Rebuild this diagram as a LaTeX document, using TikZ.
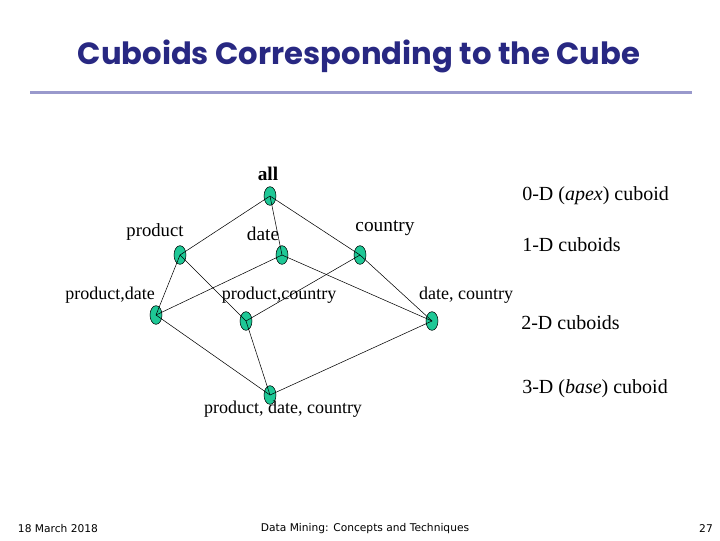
\documentclass[tikz,border=0pt]{standalone}
\usepackage{fontspec}
\setmainfont{Liberation Serif}
\newfontfamily\titlefont{Poppins}
\newfontfamily\footfont{DejaVu Sans}
\usetikzlibrary{shapes.geometric}
\definecolor{cubegreen}{RGB}{30,200,150}
\definecolor{titleblue}{RGB}{40,40,130}
\definecolor{rulelav}{RGB}{153,153,204}

\begin{document}
\begin{tikzpicture}[x=0.75pt,y=-0.75pt,
    cuboid/.style={ellipse,draw,fill=cubegreen,minimum width=9pt,minimum height=14pt,inner sep=0pt},
    lbl/.style={font=\fontsize{13.5}{15}\selectfont,inner sep=0pt},
    toplbl/.style={font=\fontsize{14.5}{16}\selectfont,inner sep=0pt},
    dimlbl/.style={font=\fontsize{15}{17}\selectfont,inner sep=0pt,anchor=west},
    foot/.style={font=\footfont\fontsize{8}{9}\selectfont,inner sep=0pt}]
            \useasboundingbox (0,0) rectangle (720,540);
            % title and rule
            \draw (359,56) node[font=\titlefont\bfseries\fontsize{23}{27}\selectfont,text=titleblue] (title) {Cuboids Corresponding to the Cube};
            \fill[rulelav] (30,90.5) rectangle (692,94);

            % the lattice of cuboids
            \draw (270,196) node[cuboid] (all) {};
            \draw (180,255) node[cuboid] (p) {};
            \draw (282,255) node[cuboid] (d) {};
            \draw (360,255) node[cuboid] (c) {};
            \draw (156,315) node[cuboid] (pd) {};
            \draw (246,321) node[cuboid] (pc) {};
            \draw (432,321) node[cuboid] (dc) {};
            \draw (270,395) node[cuboid] (pdc) {};

            \draw (all.center)--(p.center);
            \draw (all.center)--(d.center);
            \draw (all.center)--(c.center);
            \draw (p.center)--(pd.center);
            \draw (p.center)--(pc.center);
            \draw (d.center)--(pd.center);
            \draw (d.center)--(dc.center);
            \draw (c.center)--(pc.center);
            \draw (c.center)--(dc.center);
            \draw (pd.center)--(pdc.center);
            \draw (pc.center)--(pdc.center);
            \draw (dc.center)--(pdc.center);

            % labels
            \draw (268,174) node[toplbl,font=\bfseries\fontsize{14.5}{16}\selectfont] (allL) {all};
            \draw (155,232) node[lbl,font=\fontsize{14}{16}\selectfont] (pL) {product};
            \draw (263,234) node[toplbl] (dL) {date};
            \draw (385,228) node[toplbl] (cL) {country};
            \draw (110,295) node[lbl] (pdL) {product,date};
            \draw (279,295) node[lbl] (pcL) {product,country};
            \draw (466,295) node[lbl] (dcL) {date, country};
            \draw (283,409) node[lbl] (pdcL) {product, date, country};

            \draw (522,196) node[dimlbl] (d0) {0-D (\textit{apex}) cuboid};
            \draw (522,245) node[dimlbl] (d1) {1-D cuboids};
            \draw (521,323) node[dimlbl] (d2) {2-D cuboids};
            \draw (522,389) node[dimlbl] (d3) {3-D (\textit{base}) cuboid};

            % footer
            \draw (58,529) node[foot] (date) {18 March 2018};
            \draw (365,529) node[foot] (course) {Data Mining: Concepts and Techniques};
            \draw (706,529) node[foot] (page) {27};
\end{tikzpicture}
\end{document}
